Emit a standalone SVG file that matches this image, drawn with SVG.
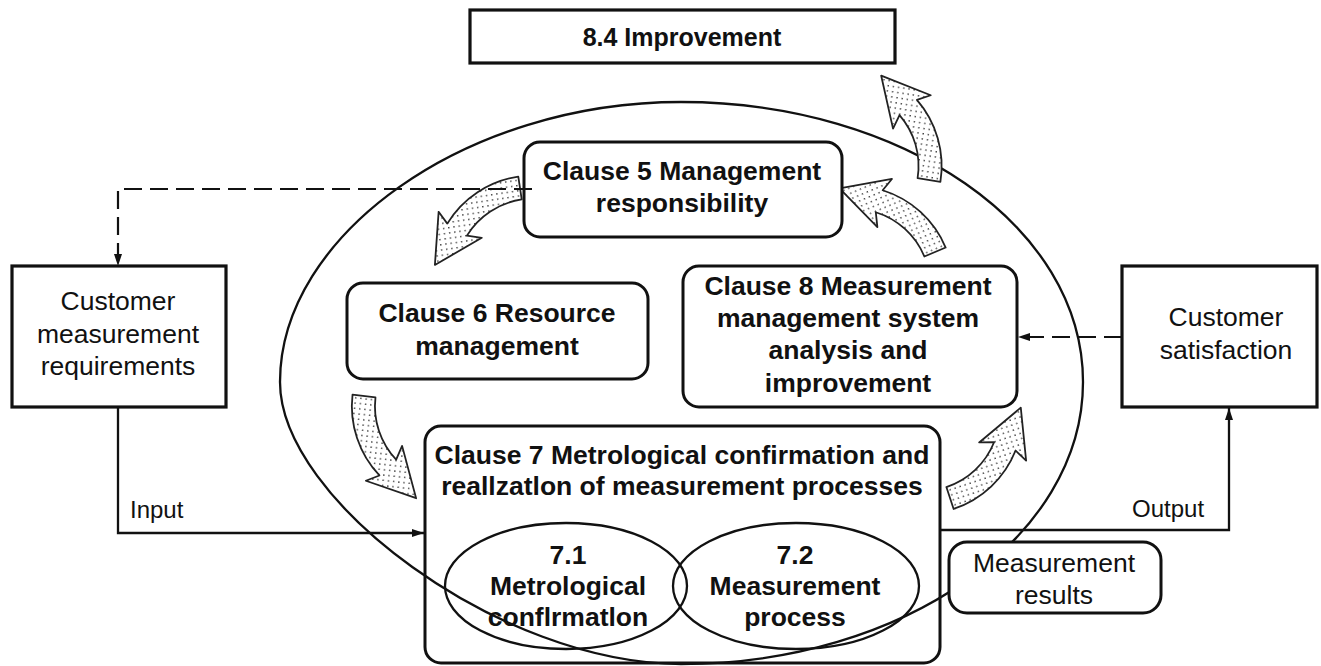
<svg xmlns="http://www.w3.org/2000/svg" width="1321" height="666" viewBox="0 0 1321 666">
<style>
.bx{fill:#fff;stroke:#111;stroke-width:3.2}
.rb{fill:#fff;stroke:#111;stroke-width:3}
.ln{fill:none;stroke:#111;stroke-width:2.3}
.ds{fill:none;stroke:#111;stroke-width:2.2;stroke-dasharray:18 8}
.arr{fill:url(#dots);stroke:#222;stroke-width:1.7;stroke-linejoin:round}
.b{font-family:"Liberation Sans",Arial,sans-serif;font-weight:bold;font-size:26.5px;fill:#111;text-anchor:middle}
.n{font-family:"Liberation Sans",Arial,sans-serif;font-size:26.5px;fill:#111;text-anchor:middle}
.l{font-family:"Liberation Sans",Arial,sans-serif;font-size:24px;fill:#111}
</style>
<defs>
<pattern id="dots" width="5" height="5" patternUnits="userSpaceOnUse"><rect width="5" height="5" fill="#fff"/><rect x="2" y="2" width="1.3" height="1.3" fill="#333"/></pattern>
<path id="carrow" class="arr" d="M0,11 A96,96 0 0 0 73.5,-23.3 L80,-11 L91,-60.5 L43,-41.5 L56.7,-37.4 A74,74 0 0 1 0,-11 Z"/>
<marker id="ah" markerUnits="userSpaceOnUse" markerWidth="14" markerHeight="10" refX="12" refY="4" orient="auto"><path d="M0,0 L12,4 L0,8 Z" fill="#111" stroke="none"/></marker>
</defs>
<rect width="1321" height="666" fill="#fff"/>

<g id="loop">
<path class="ln" d="M681,102 C903,102 1083,226 1083,382 C1083,538 903,664 681,664 C500,664 280,500 280,382 C280,235 465,102 681,102 Z"/>
</g>

<g id="cycle-arrows">
<use href="#carrow" transform="translate(929,180) rotate(-81) scale(1.05)"/>
<use href="#carrow" transform="translate(935,252) rotate(-112.7) scale(1.05)"/>
<use href="#carrow" transform="translate(520,188) rotate(171.5) scale(1.05)"/>
<use href="#carrow" transform="translate(364,396) rotate(96.6) scale(1.05)"/>
<use href="#carrow" transform="translate(950,498) rotate(-18.3) scale(1.05)"/>
</g>

<g id="improvement">
<rect class="bx" x="470" y="10" width="425" height="53"/>
<text class="b" x="682" y="46" style="font-size:25px">8.4 Improvement</text>
</g>

<g id="clause5">
<rect class="rb" x="524" y="142" width="318" height="95" rx="16"/>
<text class="b" x="682" y="180">Clause 5 Management</text>
<text class="b" x="682" y="212">responsibility</text>
</g>

<g id="clause6">
<rect class="rb" x="347" y="283" width="301" height="96" rx="16"/>
<text class="b" x="497" y="322">Clause 6 Resource</text>
<text class="b" x="497" y="355">management</text>
</g>

<g id="clause8">
<rect class="rb" x="683" y="266" width="334" height="141" rx="16"/>
<text class="b" x="848" y="295">Clause 8 Measurement</text>
<text class="b" x="848" y="327">management system</text>
<text class="b" x="848" y="359">analysis and</text>
<text class="b" x="848" y="392">improvement</text>
</g>

<g id="clause7">
<rect x="425" y="426" width="515" height="237" rx="16" fill="none" stroke="#111" stroke-width="3"/>
<text class="b" x="682" y="464">Clause 7 Metrological confirmation and</text>
<text class="b" x="682" y="495">reallzatlon of measurement processes</text>
</g>

<g id="c71">
<ellipse class="ln" cx="566" cy="586" rx="121" ry="63"/>
<text class="b" x="568" y="564">7.1</text>
<text class="b" x="568" y="595">Metrological</text>
<text class="b" x="568" y="626">conflrmatlon</text>
</g>

<g id="c72">
<ellipse class="ln" cx="796" cy="586" rx="123" ry="63"/>
<text class="b" x="795" y="564">7.2</text>
<text class="b" x="795" y="595">Measurement</text>
<text class="b" x="795" y="626">process</text>
</g>

<g id="results">
<rect class="rb" x="949" y="542" width="212" height="71" rx="18"/>
<text class="n" x="1054" y="572">Measurement</text>
<text class="n" x="1054" y="604">results</text>
</g>

<g id="cust-req">
<rect class="bx" x="12" y="266" width="214" height="141"/>
<text class="n" x="118" y="310">Customer</text>
<text class="n" x="118" y="343">measurement</text>
<text class="n" x="118" y="375">requirements</text>
</g>

<g id="cust-sat">
<rect class="bx" x="1122" y="266" width="195" height="141"/>
<text class="n" x="1226" y="326">Customer</text>
<text class="n" x="1226" y="359">satisfaction</text>
</g>

<g id="connectors">
<path class="ds" d="M532,189 H118 V266" marker-end="url(#ah)"/>
<path class="ds" d="M1122,337 H1018" marker-end="url(#ah)"/>
<path class="ln" d="M118,407 V533 H424" marker-end="url(#ah)"/>
<path class="ln" d="M940,530 H1229 V408" marker-end="url(#ah)"/>
<text class="l" x="130" y="518">Input</text>
<text class="l" x="1132" y="517">Output</text>
</g>
</svg>
